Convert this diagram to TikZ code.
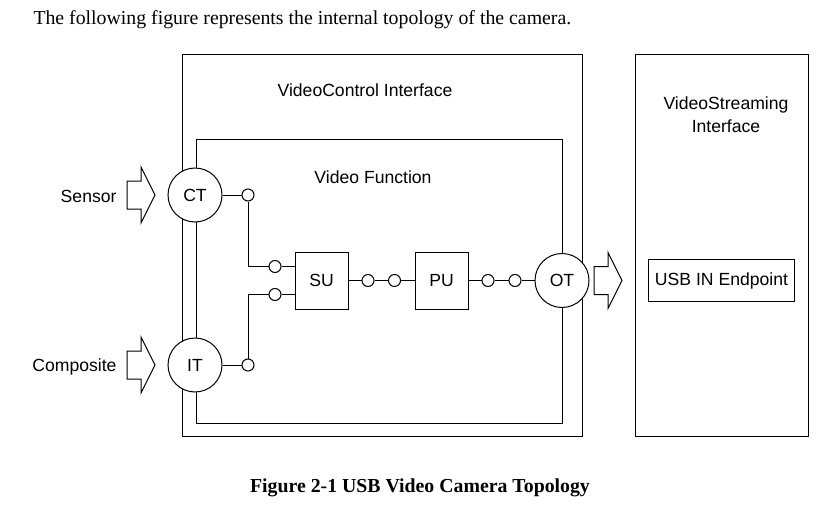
\documentclass[tikz,border=0pt]{standalone}
\usepackage{fontspec}
\setmainfont{Liberation Serif}
\newfontfamily\diagfam{Liberation Sans}
\newcommand\dfont{\diagfam\fontsize{17.6}{23}\selectfont}
\newcommand\tfont{\rmfamily\fontsize{19.8}{23}\selectfont}
\begin{document}
\begin{tikzpicture}[x=1pt,y=-1pt,line width=1pt,
  frame/.style={draw,anchor=north west,inner sep=0},
  lbl/.style={font=\dfont,inner sep=0},
  term/.style={circle,draw,fill=white,minimum size=54pt,inner sep=0,font=\dfont},
  pin/.style={circle,draw,fill=white,minimum size=12pt,inner sep=0},
  unit/.style={draw,fill=white,minimum width=53pt,minimum height=57pt,inner sep=0,font=\dfont},
  blockarrow/.pic={\draw[line width=1pt] (-28,-14) -- (-14,-14) -- (-14,-28) -- (0,0) -- (-14,28) -- (-14,14) -- (-28,14) -- cycle;}
]
\useasboundingbox (0,0) rectangle (833,506);

% top sentence and caption
\node[anchor=base west,inner sep=0,font=\tfont] (intro) at (33,24) {The following figure represents the internal topology of the camera.};
\node[anchor=base,inner sep=0,font=\tfont\bfseries] (caption) at (420,492) {Figure 2-1 USB Video Camera Topology};

% interface frames
\node[frame,minimum width=400pt,minimum height=382.5pt] (vc) at (181.5,53.5) {};
\node[frame,minimum width=365.5pt,minimum height=283.5pt] (vf) at (196,139) {};
\node[frame,minimum width=173pt,minimum height=382.5pt] (vs) at (635,53.5) {};

\node[lbl,anchor=base] (vctext) at (365,96.3) {VideoControl Interface};
\node[lbl,anchor=base] (vftext) at (373,183.5) {Video Function};
\node[lbl,align=center] (vstext) at (726,115) {VideoStreaming\\Interface};

% endpoint
\node[draw,minimum width=146.5pt,minimum height=42.5pt,inner sep=0,font=\dfont] (ep) at (721.5,280.5) {USB IN Endpoint};

% terminals
\node[term] (CT) at (195,195) {CT};
\node[term] (IT) at (195,365) {IT};
\node[term] (OT) at (562,280.5) {OT};

% units
\node[unit] (SU) at (321.5,280.5) {SU};
\node[unit] (PU) at (441.5,280.5) {PU};

% pins
\node[pin] (c1) at (248,195) {};
\node[pin] (c2) at (248,365) {};
\node[pin] (s1) at (275,266.5) {};
\node[pin] (s2) at (275,294.5) {};
\node[pin] (p1) at (368,280.5) {};
\node[pin] (p2) at (394.5,280.5) {};
\node[pin] (p3) at (488,280.5) {};
\node[pin] (p4) at (515,280.5) {};

% connectors
\draw (CT.east) -- (c1.west);
\draw (c1.south) -- (c1.south |- s1) -- (s1.west);
\draw (s1.east) -- (SU.west |- s1);
\draw (IT.east) -- (c2.west);
\draw (c2.north) -- (c2.north |- s2) -- (s2.west);
\draw (s2.east) -- (SU.west |- s2);
\draw (SU.east) -- (p1.west);
\draw (p1.east) -- (p2.west);
\draw (p2.east) -- (PU.west);
\draw (PU.east) -- (p3.west);
\draw (p3.east) -- (p4.west);
\draw (p4.east) -- (OT.west);

% input / output labels and block arrows
\node[lbl,anchor=base east] (sensor) at (117,202) {Sensor};
\node[lbl,anchor=base east] (composite) at (117,371) {Composite};
\pic at (155,195) {blockarrow};
\pic at (155,365) {blockarrow};
\pic at (622,280.5) {blockarrow};
\end{tikzpicture}
\end{document}
